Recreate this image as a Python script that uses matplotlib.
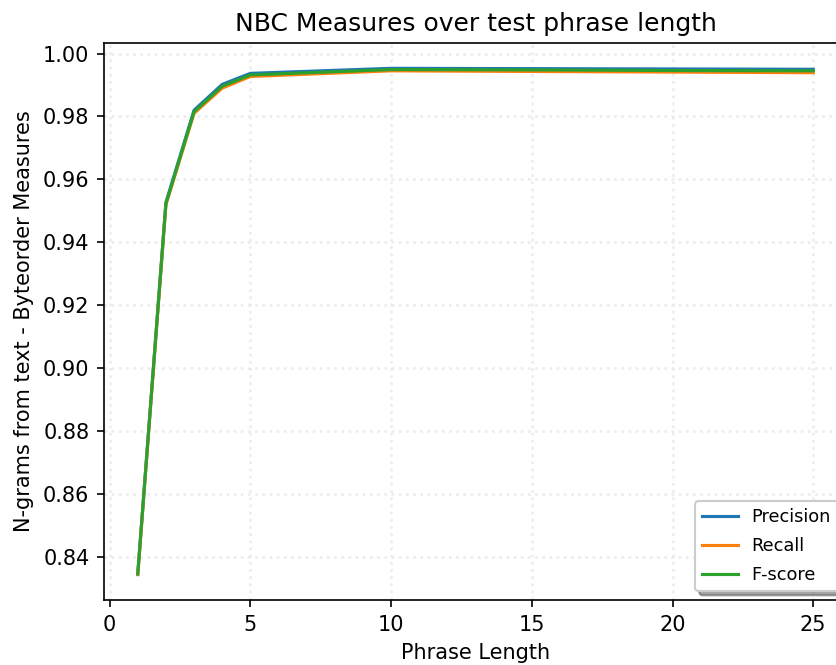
import matplotlib
matplotlib.use("Agg")
import matplotlib.pyplot as plt

phrase_length = [1, 2, 3, 4, 5, 10, 15, 20, 25]
precision = [0.8348, 0.9527, 0.9820, 0.9902, 0.9937, 0.9953, 0.9952, 0.9951, 0.9950]
recall    = [0.8344, 0.9519, 0.9810, 0.9890, 0.9927, 0.9945, 0.9943, 0.9941, 0.9939]
fscore    = [0.8346, 0.9523, 0.9815, 0.9896, 0.9932, 0.9949, 0.9948, 0.9946, 0.9945]

dpi = 150
fig = plt.figure(figsize=(836 / dpi, 665 / dpi), dpi=dpi)
ax = fig.add_axes([104 / 836, 65 / 665, 743 / 836, 557 / 665])

ax.plot(phrase_length, precision, label="Precision")
ax.plot(phrase_length, recall, label="Recall")
ax.plot(phrase_length, fscore, label="F-score")

ax.grid(True, linestyle=":", linewidth=1.3, color="#e6e6e6", alpha=0.7)
ax.set_title("NBC Measures over test phrase length", fontsize=12)
ax.set_xlabel("Phrase Length")
ax.set_ylabel("N-grams from text - Byteorder Measures")
ax.legend(loc="lower right", shadow=True, fontsize=8.5, labelspacing=0.62)

fig.savefig("out.png", dpi=dpi)
